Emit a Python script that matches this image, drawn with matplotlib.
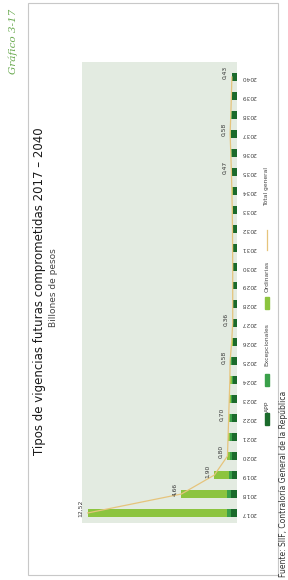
import matplotlib
matplotlib.use('Agg')
import matplotlib.pyplot as plt
from matplotlib.patches import Rectangle
from matplotlib.lines import Line2D

years = list(range(2017, 2041))
app = [0.50, 0.50, 0.45, 0.40, 0.45, 0.45, 0.40, 0.35, 0.45, 0.30, 0.30, 0.30,
       0.30, 0.30, 0.30, 0.32, 0.35, 0.35, 0.40, 0.45, 0.50, 0.45, 0.45, 0.43]
excepcionales = [0.30, 0.30, 0.20, 0.15, 0.10, 0.10, 0.10, 0.05, 0.10, 0.05, 0.03, 0.03,
                 0.03, 0.03, 0.03, 0.03, 0.02, 0.02, 0.02, 0.02, 0.02, 0.02, 0.00, 0.00]
ordinarias = [11.72, 3.86, 1.25, 0.25, 0.20, 0.15, 0.15, 0.20, 0.03, 0.10, 0.03, 0.03,
              0.03, 0.03, 0.04, 0.03, 0.03, 0.06, 0.05, 0.05, 0.06, 0.05, 0.02, 0.00]
total = [12.52, 4.66, 1.90, 0.80, 0.75, 0.70, 0.65, 0.60, 0.58, 0.45, 0.36, 0.36,
         0.36, 0.36, 0.37, 0.38, 0.40, 0.43, 0.47, 0.52, 0.58, 0.52, 0.47, 0.43]
label_years = [2017, 2018, 2019, 2020, 2022, 2025, 2027, 2035, 2037, 2040]
label_texts = ['12,52', '4,66', '1,90', '0,80', '0,70', '0,58', '0,36', '0,47', '0,58', '0,43']

c_app = '#1b6b2c'
c_exc = '#3aa04a'
c_ord = '#8cc43f'
c_tot = '#e6c47c'
bg = '#e3ebe1'

W, H = 288, 580
fig = plt.figure(figsize=(W / 100, H / 100), dpi=100)
fig.patch.set_facecolor('white')

def fx(px):
    return px / W

def fy(py):
    return 1 - py / H

# outer frame
fig.patches.append(Rectangle((fx(28), fy(575)), fx(250), (575 - 3) / H,
                             transform=fig.transFigure, fill=False,
                             edgecolor='#c8c8c8', linewidth=0.8))

ax = fig.add_axes([fx(82), fy(523), fx(155), (523 - 62) / H])
ax.set_facecolor(bg)
for s in ax.spines.values():
    s.set_visible(False)

left2 = [a + e for a, e in zip(app, excepcionales)]
ax.barh(years, app, height=0.42, color=c_app, zorder=2)
ax.barh(years, excepcionales, left=app, height=0.42, color=c_exc, zorder=2)
ax.barh(years, ordinarias, left=left2, height=0.42, color=c_ord, zorder=2)
ax.plot(total, years, color=c_tot, linewidth=0.9, zorder=3)

for yr, txt in zip(label_years, label_texts):
    i = years.index(yr)
    ax.annotate(txt, xy=(total[i], yr), xytext=(-3, 3), textcoords='offset points',
                rotation=90, ha='right', va='center', fontsize=4.3,
                color='#333333', annotation_clip=False)

ax.set_xlim(13.0, 0)
ax.set_ylim(2016.47, 2040.79)
ax.set_xticks([])
ax.yaxis.tick_right()
ax.set_yticks(years)
ax.set_yticklabels([str(y) for y in years], rotation=180, fontsize=4.3, color='#444444')
ax.tick_params(axis='y', length=0, pad=3)

# titles
fig.text(fx(40), fy(291), 'Tipos de vigencias futuras comprometidas 2017 – 2040',
         rotation=90, ha='center', va='center', fontsize=8.5, color='#1a1a1a')
fig.text(fx(53), fy(288), 'Billones de pesos', rotation=90, ha='center',
         va='center', fontsize=6.5, color='#444444')
fig.text(fx(13), fy(41), 'Gráfico 3-17', rotation=90, ha='center', va='center',
         fontsize=7.5, color='#6aaa50', style='italic', family='DejaVu Serif')

# legend
lx = 267
items = [('APP', c_app, 419, 406), ('Excepcionales', c_exc, 380, 345),
         ('Ordinarias', c_ord, 303, 276)]
for name, col, my, ty in items:
    fig.patches.append(Rectangle((fx(lx - 2), fy(my + 6)), fx(4), 12 / H,
                                 transform=fig.transFigure, color=col))
    fig.text(fx(lx), fy(ty), name, rotation=90, ha='center', va='center',
             fontsize=4.3, color='#444444')
fig.lines.append(Line2D([fx(lx), fx(lx)], [fy(250), fy(230)], transform=fig.transFigure,
                        color=c_tot, linewidth=0.9))
fig.text(fx(lx), fy(187), 'Total general', rotation=90, ha='center', va='center',
         fontsize=4.3, color='#444444')

fig.text(fx(283), fy(577), 'Fuente: SIIF, Contraloría General de la República',
         rotation=90, ha='center', va='bottom', fontsize=5.5, color='#333333')

fig.savefig('out.png', dpi=100)
